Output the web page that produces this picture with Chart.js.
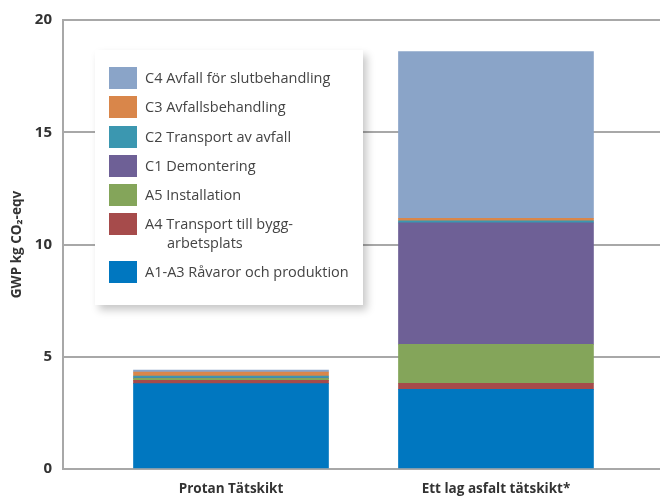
<!DOCTYPE html>
<html>
<head>
<meta charset="utf-8">
<script src="https://cdn.jsdelivr.net/npm/chart.js@4/dist/chart.umd.min.js"></script>
<style>
  html, body { margin: 0; padding: 0; background: #fff; }
  #wrap { position: relative; width: 660px; height: 496px; }
  #legend {
    position: absolute; left: 95px; top: 50px; width: 268px; height: 255px;
    background: #fff; box-shadow: 4px 5px 8px rgba(0,0,0,0.22);
    font-family: "Open Sans", sans-serif; font-size: 14.5px; color: #444;
    box-sizing: border-box; padding-top: 17px;
  }
  .item { position: relative; height: 29.3px; }
  .item .sw { position: absolute; left: 14px; top: 0; width: 28px; height: 22px; }
  .item .tx { position: absolute; left: 50px; top: 1px; line-height: 19px; white-space: nowrap; }
  .item .tx span { display: block; padding-left: 22px; }
  .item.two { height: 48px; }
</style>
</head>
<body>
<div id="wrap">
  <canvas id="c" width="660" height="496"></canvas>
  <div id="legend"></div>
</div>
<script>
// kategorier (x) och serier, nerifrån och upp
const categories = ["Protan Tätskikt", "Ett lag asfalt tätskikt*"];
const seriesNames = [
  "A1-A3 Råvaror och produktion",
  "A4 Transport till bygg-\narbetsplats",
  "A5 Installation",
  "C1 Demontering",
  "C2 Transport av avfall",
  "C3 Avfallsbehandling",
  "C4 Avfall för slutbehandling"
];
const seriesColors = ["#0077c0", "#a64b4b", "#84a55a", "#6e6096", "#3b97b0", "#d9864a", "#8aa4c8"];

const a1a3 = [3.80, 3.55];
const a4   = [0.15, 0.27];
const a5   = [0.09, 1.73];
const c1   = [0.01, 5.41];
const c2   = [0.09, 0.09];
const c3   = [0.18, 0.12];
const c4   = [0.09, 7.42];
const yTicks = [0, 5, 10, 15, 20];

const seriesValues = [a1a3, a4, a5, c1, c2, c3, c4];

const datasets = seriesValues.map((vals, i) => ({
  label: seriesNames[i],
  data: vals.map((v, k) => ({ x: k + 1, y: v })),
  backgroundColor: seriesColors[i],
  borderWidth: 0,
  barThickness: 195
}));

new Chart(document.getElementById("c"), {
  type: "bar",
  data: { datasets },
  options: {
    responsive: false,
    animation: false,
    layout: { padding: { left: 9, top: 16, right: 0, bottom: 0 } },
    plugins: { legend: { display: false }, tooltip: { enabled: false } },
    scales: {
      x: {
        type: "linear",
        stacked: true,
        offset: false,
        min: 0.366,
        max: 2.619,
        grid: { display: false, offset: false },
        border: { color: "#a8a8a8", width: 2 },
        afterBuildTicks: s => { s.ticks = categories.map((_, i) => ({ value: i + 1 })); },
        afterFit: s => { s.height = 27; },
        ticks: {
          callback: v => categories[v - 1],
          color: "#333",
          font: { family: "Open Sans", size: 13.5, weight: "bold" },
          padding: 4,
          maxRotation: 0
        }
      },
      y: {
        stacked: true,
        min: 0,
        max: 20,
        afterBuildTicks: s => { s.ticks = yTicks.map(v => ({ value: v })); },
        afterFit: s => { s.width = 54; },
        grid: { color: "#a8a8a8", lineWidth: 2, drawTicks: false },
        border: { color: "#a8a8a8", width: 2 },
        ticks: {
          color: "#333",
          padding: 11,
          font: { family: "Open Sans", size: 15, weight: "bold" }
        },
        title: {
          display: true,
          text: "GWP kg CO₂-eqv",
          color: "#333",
          font: { family: "Open Sans", size: 13.5, weight: "bold" },
          padding: { top: 0, bottom: 0 }
        }
      }
    }
  }
});

// legend, överst först
const leg = document.getElementById("legend");
for (let i = seriesNames.length - 1; i >= 0; i--) {
  const parts = seriesNames[i].split("\n");
  const el = document.createElement("div");
  el.className = "item" + (parts.length > 1 ? " two" : "");
  el.innerHTML = '<div class="sw" style="background:' + seriesColors[i] + '"></div>' +
    '<div class="tx">' + parts[0] + (parts[1] ? '<span>' + parts[1] + '</span>' : '') + '</div>';
  leg.appendChild(el);
}
</script>
</body>
</html>
